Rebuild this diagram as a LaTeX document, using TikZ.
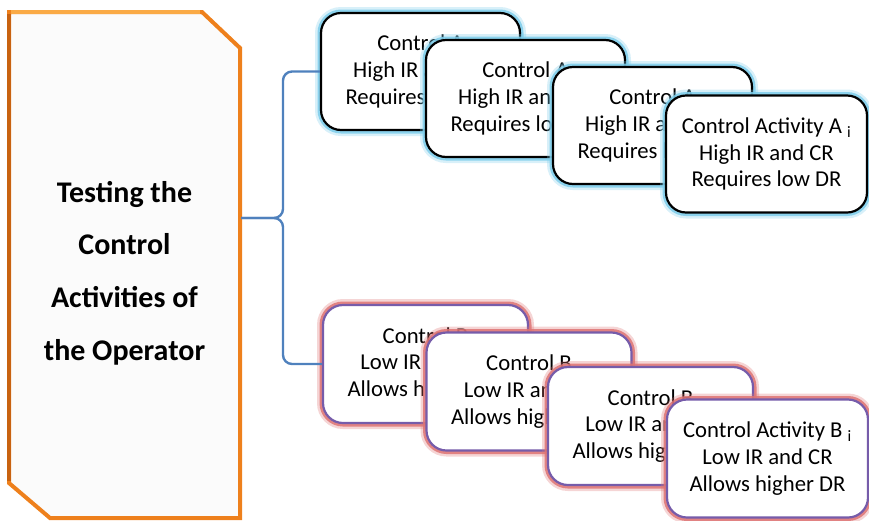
\documentclass[tikz,border=0pt]{standalone}
\usepackage{fontspec}
\setmainfont{Carlito}
\definecolor{glowA}{RGB}{125,205,235}
\definecolor{glowB}{RGB}{222,115,115}
\definecolor{purpB}{RGB}{118,92,170}
\definecolor{braceblue}{RGB}{79,129,189}
\definecolor{orangeM}{RGB}{238,128,28}
\definecolor{orangeL}{RGB}{250,170,70}
\definecolor{orangeD}{RGB}{200,98,16}
\tikzset{
  card/.style={rounded corners=20pt, minimum width=199pt, minimum height=117pt,
    inner sep=0pt, align=center, fill=white, line width=2.2pt,
    font=\fontsize{22.7}{26.7}\selectfont},
  acard/.style={card, draw=black,
    preaction={draw=glowA, draw opacity=0.3, line width=12pt},
    preaction={draw=glowA, draw opacity=0.85, line width=7pt}},
  bcard/.style={card, draw=purpB,
    preaction={draw=glowB, draw opacity=0.3, line width=12pt},
    preaction={draw=glowB, draw opacity=0.85, line width=7pt}},
  mainshape/.style={fill=gray!3, draw=orangeM, line width=4pt, line join=miter},
  maintext/.style={align=center, font=\fontsize{30}{52.7}\selectfont\bfseries},
  brace/.style={draw=braceblue, line width=2.4pt, rounded corners=9pt}
}
\begin{document}
\begin{tikzpicture}[x=1pt,y=-1pt]
\useasboundingbox (0,0) rectangle (869,520);
% left shape
\draw[mainshape] (9,12) -- (202,12) -- (240,48) -- (240,518) -- (50,518) -- (9,483) -- cycle;
\draw[orangeL, line width=4pt, line cap=butt] (11,12) -- (200,12);
\draw[orangeD, line width=4pt, line cap=butt] (9,14) -- (9,481);
\node[maintext] (main) at (124.5,273) {Testing the\\Control\\Activities of\\the Operator};
\coordinate (tip) at (241,218);
% A cards
\node[acard] (a1) at (420.5,71.5) {Control A\\High IR and CR\\Requires low DR};
\node[acard] (a2) at (525.5,98.5) {Control A\\High IR and CR\\Requires low DR};
\node[acard] (a3) at (652.5,125.5) {Control A\\High IR and CR\\Requires low DR};
\node[acard, minimum width=201pt] (a4) at (766.5,154) {Control Activity A \textsubscript{i}\\High IR and CR\\Requires low DR};
% B cards
\node[bcard, minimum width=205pt, minimum height=118pt] (b1) at (425.5,364) {Control B\\Low IR and CR\\Allows higher DR};
\node[bcard, minimum width=205pt, minimum height=118pt] (b2) at (529,391.5) {Control B\\Low IR and CR\\Allows higher DR};
\node[bcard, minimum width=205pt, minimum height=118pt] (b3) at (650.5,426) {Control B\\Low IR and CR\\Allows higher DR};
\node[bcard, minimum width=201pt, minimum height=118pt] (b4) at (767.5,458.5) {Control Activity B \textsubscript{i}\\Low IR and CR\\Allows higher DR};
% brace
\draw[brace] (a1.west) -- (283,71.5) -- (283,218) -- (tip);
\draw[brace] (b1.west) -- (283,364) -- (283,218) -- (tip);
\end{tikzpicture}
\end{document}
